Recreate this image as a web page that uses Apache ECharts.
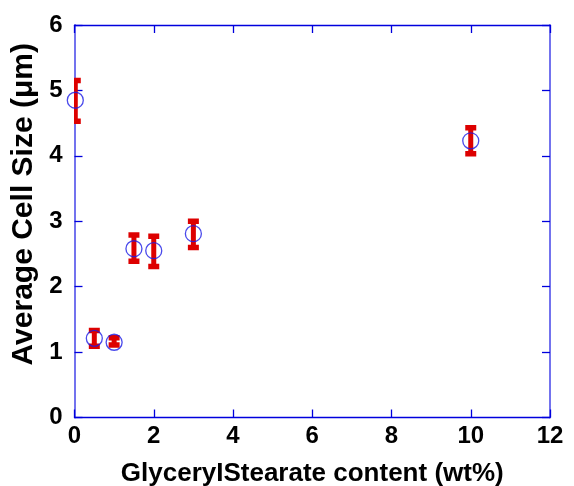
<!DOCTYPE html>
<html>
<head>
<meta charset="utf-8">
<script src="https://cdn.jsdelivr.net/npm/echarts@6/dist/echarts.min.js"></script>
<style>html,body{margin:0;padding:0;background:#fff;}#c{width:574px;height:486px;}</style>
</head>
<body>
<div id="c"></div>
<script>
var xValues = [0.02, 0.5, 1, 1.5, 2, 3, 10];
var meanValues = [4.85, 1.21, 1.15, 2.58, 2.55, 2.81, 4.23];
var upperValues = [5.15, 1.33, 1.22, 2.79, 2.77, 3.00, 4.43];
var lowerValues = [4.53, 1.09, 1.11, 2.39, 2.31, 2.60, 4.03];
var xTicks = [0, 2, 4, 6, 8, 10, 12];
var yTicks = [0, 1, 2, 3, 4, 5, 6];

var font = 'Liberation Sans, Arial, sans-serif';
var darkBlue = '#0000dd';
var lightBlue = '#7373ee';

var errData = xValues.map(function (x, i) { return [x, lowerValues[i], upperValues[i]]; });
var ptData = xValues.map(function (x, i) { return [x, meanValues[i]]; });

function axisBase(color, w) {
  return {
    axisLine: {onZero: false, lineStyle: {color: color, width: w}},
    axisTick: {inside: true, length: 8, lineStyle: {color: darkBlue, width: 1.3}},
    splitLine: {show: false}
  };
}

var chart = echarts.init(document.getElementById('c'), null, {renderer: 'canvas'});
chart.setOption({
  animation: false,
  backgroundColor: '#fff',
  grid: {left: 74.5, right: 24, top: 25, bottom: 68.5, containLabel: false, outerBoundsMode: 'none'},
  xAxis: [Object.assign(axisBase(darkBlue, 1.3), {
    type: 'value', min: xTicks[0], max: xTicks[xTicks.length - 1], interval: 2,
    position: 'bottom',
    name: 'GlyceryIStearate content (wt%)', nameLocation: 'middle', nameGap: 43,
    nameTextStyle: {fontFamily: font, fontWeight: 'bold', fontSize: 26, color: '#000'},
    axisLabel: {fontFamily: font, fontWeight: 'bold', fontSize: 24, color: '#000', margin: 7}
  }), Object.assign(axisBase(darkBlue, 1.3), {
    type: 'value', min: xTicks[0], max: xTicks[xTicks.length - 1], interval: 2,
    position: 'top',
    axisLabel: {show: false}
  })],
  yAxis: [Object.assign(axisBase(lightBlue, 2), {
    type: 'value', min: yTicks[0], max: yTicks[yTicks.length - 1], interval: 1,
    position: 'left',
    name: 'Average Cell Size (\u03bcm)', nameLocation: 'middle', nameGap: 36,
    nameTextStyle: {fontFamily: font, fontWeight: 'bold', fontSize: 30, color: '#000', padding: [0, 0, 0, 34]},
    axisLabel: {fontFamily: font, fontWeight: 'bold', fontSize: 24, color: '#000', margin: 12}
  }), Object.assign(axisBase(lightBlue, 2), {
    type: 'value', min: yTicks[0], max: yTicks[yTicks.length - 1], interval: 1,
    position: 'right',
    axisLabel: {show: false}
  })],
  series: [{
    type: 'custom',
    clip: true,
    data: errData,
    renderItem: function (params, api) {
      var x = api.value(0);
      var lo = api.coord([x, api.value(1)]);
      var hi = api.coord([x, api.value(2)]);
      var capW = 11, capH = 5.5, barW = 5;
      var color = '#dd0000';
      return {
        type: 'group',
        children: [
          {type: 'rect', shape: {x: hi[0] - barW / 2, y: hi[1], width: barW, height: lo[1] - hi[1]}, style: {fill: color}},
          {type: 'rect', shape: {x: hi[0] - capW / 2, y: hi[1] - capH / 2, width: capW, height: capH}, style: {fill: color}},
          {type: 'rect', shape: {x: lo[0] - capW / 2, y: lo[1] - capH / 2, width: capW, height: capH}, style: {fill: color}}
        ]
      };
    },
    z: 2
  }, {
    type: 'scatter',
    data: ptData,
    symbol: 'circle',
    symbolSize: 16,
    clip: false,
    itemStyle: {color: 'rgba(0,0,0,0)', borderColor: '#1c1ce6', borderWidth: 1.3},
    z: 3
  }]
});
</script>
</body>
</html>
